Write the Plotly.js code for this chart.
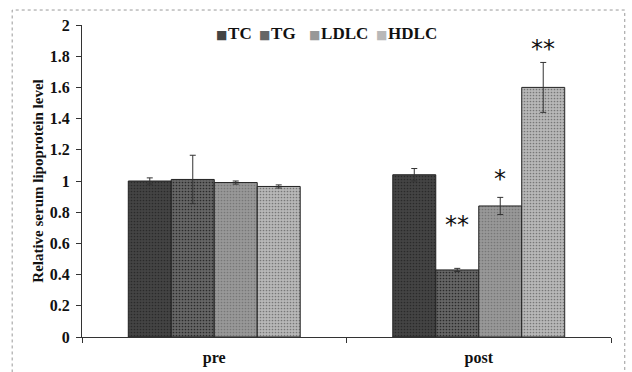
<!DOCTYPE html>
<html>
<head>
<meta charset="utf-8">
<script src="https://cdn.plot.ly/plotly-3.0.1.min.js"></script>
<style>html,body{margin:0;padding:0;background:#fff;}#chart{width:632px;height:372px;}</style>
</head>
<body>
<div id="chart"></div>
<script>
const categories = ['pre', 'post'];
const seriesNames = ['TC', 'TG', 'LDLC', 'HDLC'];
const tcValues = [1.00, 1.04];
const tcErrors = [0.02, 0.04];
const tgValues = [1.01, 0.43];
const tgErrors = [0.155, 0.01];
const ldlcValues = [0.99, 0.84];
const ldlcErrors = [0.01, 0.055];
const hdlcValues = [0.965, 1.60];
const hdlcErrors = [0.01, 0.16];
// significance marks: series index, category index, label, y position
const sigSeries = [1, 2, 3];
const sigCategory = [1, 1, 1];
const sigLabels = ['**', '*', '**'];
const sigY = [0.715, 1.01, 1.845];
const yTicks = [0, 0.2, 0.4, 0.6, 0.8, 1, 1.2, 1.4, 1.6, 1.8, 2];

const colors = ['#444444', '#666666', '#989898', '#b8b8b8'];
const values = [tcValues, tgValues, ldlcValues, hdlcValues];
const errors = [tcErrors, tgErrors, ldlcErrors, hdlcErrors];
const serif = '"Liberation Serif", "DejaVu Serif", serif';
const bargap = 0.35;

const traces = seriesNames.map((n, i) => ({
  type: 'bar',
  name: n,
  x: categories,
  y: values[i],
  marker: {color: colors[i], line: {color: '#222', width: 1},
           pattern: {shape: '.', size: 3, solidity: 0.25, fgcolor: i < 2 ? '#2a2a2a' : '#777', bgcolor: colors[i]}},
  error_y: {type: 'data', array: errors[i], visible: true, color: '#333', thickness: 1, width: 3}
}));

const nS = seriesNames.length;
const barW = (1 - bargap) / nS;
const annotations = sigLabels.map((t, k) => ({
  x: sigCategory[k] - (1 - bargap) / 2 + barW * (sigSeries[k] + 0.5),
  y: sigY[k], xref: 'x', yref: 'y', text: t, showarrow: false,
  font: {family: '"DejaVu Sans", sans-serif', size: 24, color: '#111'},
  yanchor: 'middle'
}));

// compact legend, Excel style (symbol immediately before text)
const legendPaperX = [0.250, 0.330, 0.426, 0.552];
seriesNames.forEach((n, i) => {
  annotations.push({
    x: legendPaperX[i], y: 0.974, xref: 'paper', yref: 'paper',
    xanchor: 'left', yanchor: 'middle', showarrow: false,
    text: '<span style="font-size:12px;color:' + colors[i] + ';font-family:DejaVu Sans">■</span><span style="font-size:3px"> </span>' + n,
    font: {family: serif, size: 17, color: '#111', weight: 'bold'}
  });
});

const layout = {
  width: 632, height: 372,
  margin: {l: 82, r: 21, t: 25, b: 35},
  paper_bgcolor: '#fff', plot_bgcolor: '#fff',
  barmode: 'group', bargap: bargap, bargroupgap: 0,
  showlegend: false,
  xaxis: {type: 'category', showline: true, linecolor: '#333', linewidth: 1,
          ticks: 'outside', tickson: 'boundaries', ticklen: 5, tickcolor: '#333',
          ticklabelstandoff: 6,
          tickfont: {family: serif, size: 16, color: '#111', weight: 'bold'},
          showgrid: false, zeroline: false},
  yaxis: {range: [0, 2], tickvals: yTicks, showline: true, linecolor: '#333', linewidth: 1,
          ticks: 'outside', ticklen: 5, tickcolor: '#333', showgrid: false, zeroline: false,
          ticklabelstandoff: 3,
          tickfont: {family: serif, size: 16, color: '#111', weight: 'bold'},
          title: {text: 'Relative serum lipoprotein level', standoff: 2,
                  font: {family: serif, size: 15, color: '#111', weight: 'bold'}}},
  annotations: annotations,
  shapes: [{type: 'rect', xref: 'paper', yref: 'paper',
            x0: -0.132, x1: 1.026, y0: -0.2, y1: 1.048,
            line: {color: '#999', width: 1, dash: 'dot'}, fillcolor: 'rgba(0,0,0,0)'}]
};

Plotly.newPlot('chart', traces, layout, {displayModeBar: false, staticPlot: true});
</script>
</body>
</html>
